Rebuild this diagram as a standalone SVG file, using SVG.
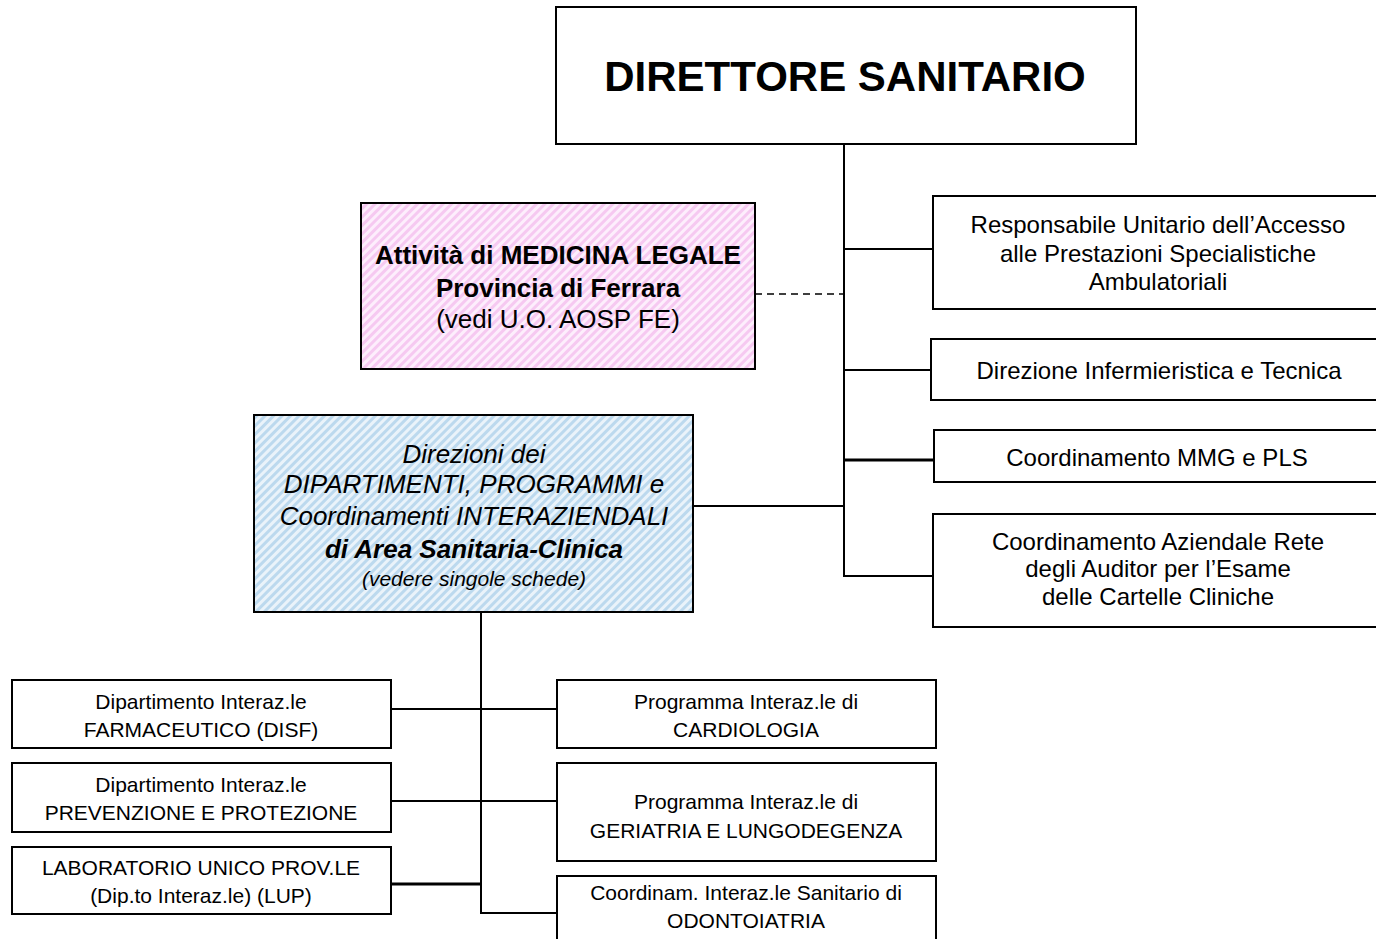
<svg xmlns="http://www.w3.org/2000/svg" width="1376" height="939" viewBox="0 0 1376 939">
<style>
.box{fill:#fff;stroke:#000;stroke-width:2}
.ln{stroke:#000;stroke-width:2;fill:none}
.thk{stroke:#000;stroke-width:3;fill:none}
.dash{stroke:#000;stroke-width:1.5;stroke-dasharray:7,5;fill:none}
text{font-family:"Liberation Sans",Arial,sans-serif;fill:#000;text-anchor:middle}
.t24{font-size:24px}
.t21{font-size:21px}
.t26{font-size:26px}
.b{font-weight:bold}
.i{font-style:italic}
</style>
<defs>
<pattern id="pink" width="6" height="6" patternUnits="userSpaceOnUse" patternTransform="rotate(45)">
<rect width="6" height="6" fill="#fdeefc"/>
<rect width="3" height="6" fill="#f6c9f1"/>
</pattern>
<pattern id="blue" width="6" height="6" patternUnits="userSpaceOnUse" patternTransform="rotate(45)">
<rect width="6" height="6" fill="#eaf3fa"/>
<rect width="3" height="6" fill="#bcd9ee"/>
</pattern>
</defs>
<g id="connectors">
<line class="ln" x1="844" y1="144" x2="844" y2="577"/>
<line class="ln" x1="844" y1="249" x2="933" y2="249"/>
<line class="dash" x1="755" y1="294" x2="844" y2="294"/>
<line class="ln" x1="844" y1="370" x2="931" y2="370"/>
<line class="thk" x1="844" y1="460" x2="934" y2="460"/>
<line class="ln" x1="693" y1="506" x2="844" y2="506"/>
<line class="ln" x1="843" y1="576" x2="933" y2="576"/>
<polyline class="ln" points="481,612 481,913 557,913"/>
<line class="ln" x1="391" y1="709" x2="557" y2="709"/>
<line class="ln" x1="391" y1="801" x2="557" y2="801"/>
<line class="thk" x1="391" y1="884" x2="481" y2="884"/>
</g>
<g id="direttore">
<rect class="box" x="556" y="7" width="580" height="137"/>
<text x="845" y="91" class="b" style="font-size:42px">DIRETTORE SANITARIO</text>
</g>
<g id="medicina-legale">
<rect x="361" y="203" width="394" height="166" fill="url(#pink)" stroke="#000" stroke-width="2"/>
<text x="558" y="264" class="t26 b">Attività di MEDICINA LEGALE</text>
<text x="558" y="297" class="t26 b">Provincia di Ferrara</text>
<text x="558" y="328" class="t26">(vedi U.O. AOSP FE)</text>
</g>
<g id="direzioni-dipartimenti">
<rect x="254" y="415" width="439" height="197" fill="url(#blue)" stroke="#000" stroke-width="2"/>
<text x="474" y="463" class="t26 i">Direzioni dei</text>
<text x="474" y="493" class="t26 i">DIPARTIMENTI, PROGRAMMI e</text>
<text x="474" y="525" class="t26 i">Coordinamenti INTERAZIENDALI</text>
<text x="474" y="558" class="t26 i b">di Area Sanitaria-Clinica</text>
<text x="474" y="586" class="t21 i">(vedere singole schede)</text>
</g>
<g id="responsabile-accesso">
<rect class="box" x="933" y="196" width="452" height="113"/>
<text x="1158" y="233" class="t24">Responsabile Unitario dell’Accesso</text>
<text x="1158" y="262" class="t24">alle Prestazioni Specialistiche</text>
<text x="1158" y="290" class="t24">Ambulatoriali</text>
</g>
<g id="direzione-infermieristica">
<rect class="box" x="931" y="339" width="454" height="61"/>
<text x="1159" y="379" class="t24">Direzione Infermieristica e Tecnica</text>
</g>
<g id="coordinamento-mmg">
<rect class="box" x="934" y="430" width="451" height="52"/>
<text x="1157" y="466" class="t24">Coordinamento MMG e PLS</text>
</g>
<g id="coordinamento-auditor">
<rect class="box" x="933" y="514" width="452" height="113"/>
<text x="1158" y="550" class="t24">Coordinamento Aziendale Rete</text>
<text x="1158" y="577" class="t24">degli Auditor per l’Esame</text>
<text x="1158" y="605" class="t24">delle Cartelle Cliniche</text>
</g>
<g id="farmaceutico">
<rect class="box" x="12" y="680" width="379" height="68"/>
<text x="201" y="709" class="t21">Dipartimento Interaz.le</text>
<text x="201" y="737" class="t21">FARMACEUTICO (DISF)</text>
</g>
<g id="prevenzione">
<rect class="box" x="12" y="763" width="379" height="69"/>
<text x="201" y="792" class="t21">Dipartimento Interaz.le</text>
<text x="201" y="820" class="t21">PREVENZIONE E PROTEZIONE</text>
</g>
<g id="laboratorio">
<rect class="box" x="12" y="847" width="379" height="67"/>
<text x="201" y="875" class="t21">LABORATORIO UNICO PROV.LE</text>
<text x="201" y="903" class="t21">(Dip.to Interaz.le) (LUP)</text>
</g>
<g id="cardiologia">
<rect class="box" x="557" y="680" width="379" height="68"/>
<text x="746" y="709" class="t21">Programma Interaz.le di</text>
<text x="746" y="737" class="t21">CARDIOLOGIA</text>
</g>
<g id="geriatria">
<rect class="box" x="557" y="763" width="379" height="98"/>
<text x="746" y="809" class="t21">Programma Interaz.le di</text>
<text x="746" y="838" class="t21">GERIATRIA E LUNGODEGENZA</text>
</g>
<g id="odontoiatria">
<rect class="box" x="557" y="876" width="379" height="80"/>
<text x="746" y="900" class="t21">Coordinam. Interaz.le Sanitario di</text>
<text x="746" y="928" class="t21">ODONTOIATRIA</text>
</g>
</svg>
